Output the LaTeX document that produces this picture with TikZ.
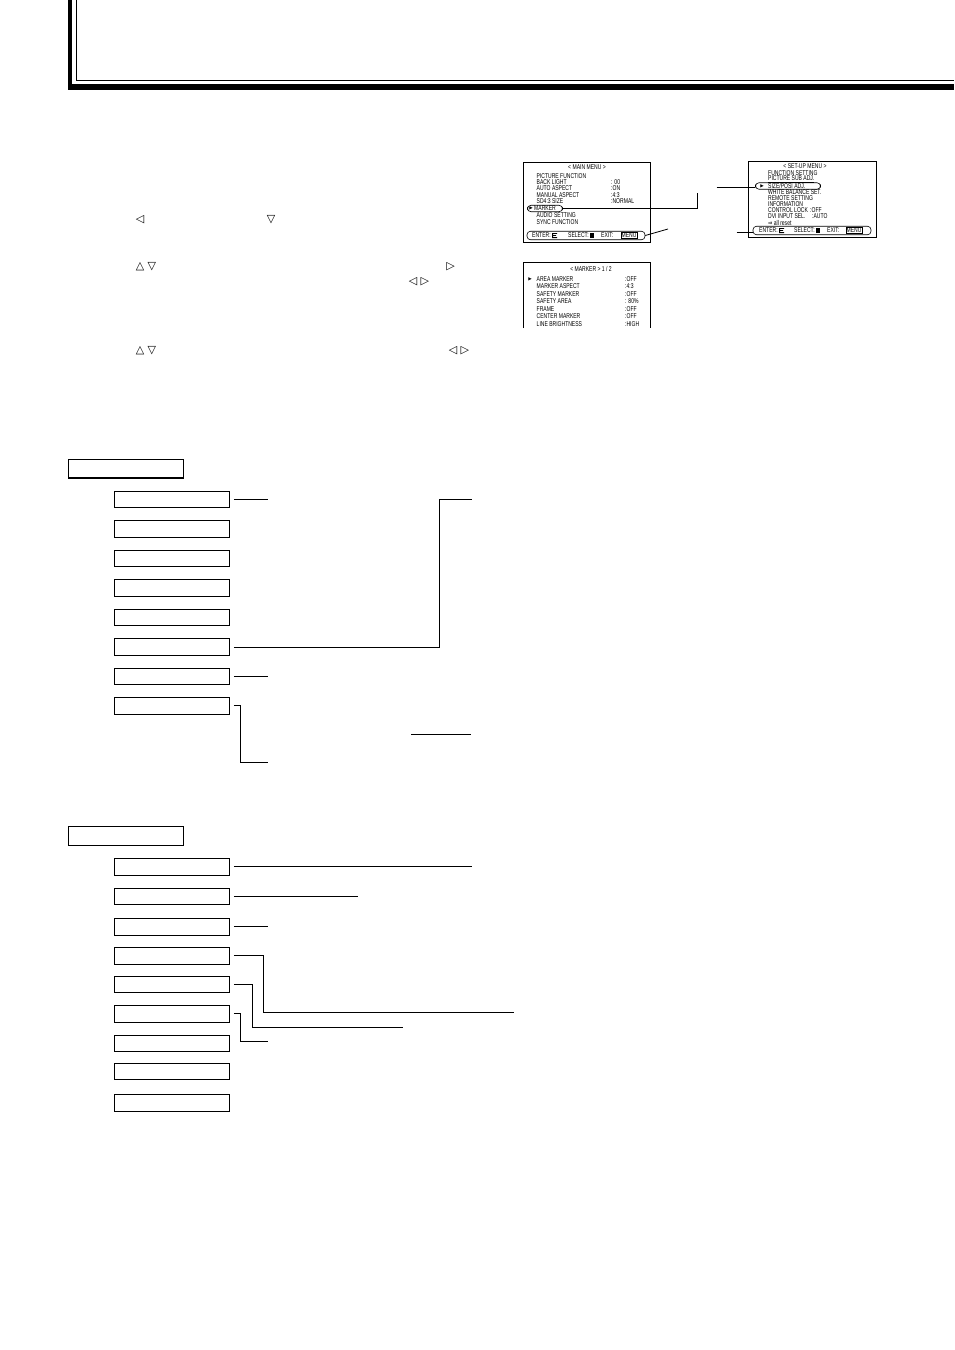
\documentclass[tikz,border=0pt]{standalone}
\usepackage{fontspec}
\setmainfont{Liberation Sans}
\newfontfamily\symf{DejaVu Sans}
\usepackage{graphicx}
\newcommand{\osd}[1]{\scalebox{0.72}[1]{#1}}
\begin{document}
\begin{tikzpicture}[x=1pt,y=-1pt,
  item/.style={draw, line width=1pt, minimum width=115.4pt, minimum height=16.5pt, inner sep=0pt},
  headbox/.style={draw, line width=1.3pt, minimum width=115.4pt, minimum height=18.6pt, inner sep=0pt},
  conn/.style={line width=0.8pt},
  scr/.style={draw, line width=0.8pt},
  oval/.style={draw, line width=0.6pt, rounded corners=3.5pt, inner sep=0pt},
  st/.style={font=\fontsize{7}{7}\selectfont, inner sep=0pt, anchor=west},
  stc/.style={font=\fontsize{7}{7}\selectfont, inner sep=0pt},
  arr/.style={font=\symf\fontsize{4.5}{4.5}\selectfont, inner sep=0pt},
  tri/.style={font=\symf\fontsize{11}{11}\selectfont, inner sep=0pt}]
\useasboundingbox (0,0) rectangle (954,1350);

% ---- title frame
\fill (68,0) rectangle (72.3,90);
\fill (68,84) rectangle (954,90);
\fill (75.7,0) rectangle (77,81.3);
\fill (75.7,80) rectangle (954,81.3);

% ---- instruction triangles
\node[tri] (t1) at (140,220) {◁};
\node[tri] (t2) at (271,220) {▽};
\node[tri] (t3) at (146,267) {△ ▽};
\node[tri] (t4) at (450.5,267) {▷};
\node[tri] (t5) at (419,282) {◁ ▷};
\node[tri] (t6) at (146,351) {△ ▽};
\node[tri] (t7) at (459,351) {◁ ▷};

% ---- MAIN MENU screen
\node[scr, minimum width=127pt, minimum height=80pt, inner sep=0pt] (mm) at (586.5,202) {};
\node[stc] (m0) at (587,167) {\osd{< MAIN MENU >}};
\node[st] (m1) at (536.5,175.7) {\osd{PICTURE FUNCTION}};
\node[st] (m2) at (536.5,182) {\osd{BACK LIGHT}};
\node[st] (m2v) at (611,182) {\osd{: 00}};
\node[st] (m3) at (536.5,188.5) {\osd{AUTO ASPECT}};
\node[st] (m3v) at (611,188.5) {\osd{:ON}};
\node[st] (m4) at (536.5,195) {\osd{MANUAL ASPECT}};
\node[st] (m4v) at (611,195) {\osd{:4:3}};
\node[st] (m5) at (536.5,201.5) {\osd{SD4:3 SIZE}};
\node[st] (m5v) at (611,201.5) {\osd{:NORMAL}};
\node[oval, minimum width=35pt, minimum height=6.5pt] (mk) at (545,208.5) {};
\node[arr] (mka) at (531,208.5) {▶};
\node[st] (m6) at (534,208.5) {\osd{MARKER}};
\node[st] (m7) at (536.5,215.5) {\osd{AUDIO SETTING}};
\node[st] (m8) at (536.5,222.5) {\osd{SYNC FUNCTION}};
\node[oval, minimum width=118pt, minimum height=8.5pt] (mb) at (586,235.5) {};
\node[st] (mb1) at (532,235.5) {\osd{ENTER:}};
\fill (552,233) rectangle (553.2,238) (553.2,233) rectangle (557,233.9) (553.2,235.1) rectangle (556,235.9) (553.2,237.1) rectangle (557,238);
\node[st] (mb2) at (568,235.5) {\osd{SELECT:}};
\fill (590,233) rectangle (594,238);
\node[st] (mb3) at (601,235.5) {\osd{EXIT:}};
\node[draw, line width=0.6pt, inner sep=0.6pt, font=\fontsize{7}{7}\selectfont] (mbm) at (629,235.5) {\osd{MENU}};

% ---- SET-UP MENU screen
\node[scr, minimum width=128pt, minimum height=76pt, inner sep=0pt] (su) at (812,199.5) {};
\node[stc] (s0) at (805,166.5) {\osd{< SET-UP MENU >}};
\node[st] (s1) at (768,173) {\osd{FUNCTION SETTING}};
\node[st] (s2) at (768,179.5) {\osd{\underline{PICTURE SUB ADJ.}}};
\node[oval, minimum width=65pt, minimum height=6.5pt] (so) at (788,186) {};
\node[arr] (soa) at (762,186) {▶};
\node[st] (s3) at (768,186) {\osd{SIZE/POSI ADJ.}};
\node[st] (s4) at (768,192) {\osd{WHITE BALANCE SET.}};
\node[st] (s5) at (768,198.5) {\osd{REMOTE SETTING}};
\node[st] (s6) at (768,204.5) {\osd{INFORMATION}};
\node[st] (s7) at (768,210.5) {\osd{CONTROL LOCK}};
\node[st] (s7v) at (810,210.5) {\osd{:OFF}};
\node[st] (s8) at (768,216.5) {\osd{DVI INPUT SEL.}};
\node[st] (s8v) at (812,216.5) {\osd{:AUTO}};
\node[st] (s9) at (768,222.5) {\osd{{\symf ⇒} all reset}};
\node[oval, minimum width=118pt, minimum height=8.5pt] (sb) at (812,230.5) {};
\node[st] (sb1) at (759,230.5) {\osd{ENTER:}};
\fill (779,228) rectangle (780.2,233) (780.2,228) rectangle (784,228.9) (780.2,230.1) rectangle (783,230.9) (780.2,232.1) rectangle (784,233);
\node[st] (sb2) at (794,230.5) {\osd{SELECT:}};
\fill (816,228) rectangle (820,233);
\node[st] (sb3) at (827,230.5) {\osd{EXIT:}};
\node[draw, line width=0.6pt, inner sep=0.6pt, font=\fontsize{7}{7}\selectfont] (sbm) at (854,230.5) {\osd{MENU}};

% ---- MARKER screen (bottom cut off)
\draw[line width=0.8pt] (523,328) -- (523,262) -- (650,262) -- (650,328);
\node[stc] (k0) at (591,269) {\osd{< MARKER > 1 / 2}};
\node[arr] (kka) at (530,279) {▶};
\node[st] (k1) at (536.5,279) {\osd{AREA MARKER}};
\node[st] (k1v) at (625,279) {\osd{:OFF}};
\node[st] (k2) at (536.5,286.5) {\osd{MARKER ASPECT}};
\node[st] (k2v) at (625,286.5) {\osd{:4:3}};
\node[st] (k3) at (536.5,294) {\osd{SAFETY MARKER}};
\node[st] (k3v) at (625,294) {\osd{:OFF}};
\node[st] (k4) at (536.5,301.5) {\osd{SAFETY AREA}};
\node[st] (k4v) at (625,301.5) {\osd{:  80\%}};
\node[st] (k5) at (536.5,309) {\osd{FRAME}};
\node[st] (k5v) at (625,309) {\osd{:OFF}};
\node[st] (k6) at (536.5,316.5) {\osd{CENTER MARKER}};
\node[st] (k6v) at (625,316.5) {\osd{:OFF}};
\node[st] (k7) at (536.5,324) {\osd{LINE BRIGHTNESS}};
\node[st] (k7v) at (625,324) {\osd{:HIGH}};

% ---- screen leader lines
\coordinate (c1) at (697,208.5);
\coordinate (c2) at (697,193);
\draw[conn] (mk.east) -- (c1) -- (c2);
\coordinate (c3) at (716.7,187.5);
\draw[conn] (c3) -- (so.west |- c3);
\coordinate (c4) at (736.7,232.3);
\draw[conn] (c4) -- (sb.west |- c4);
\coordinate (c5) at (668,229);
\draw[conn] (mb.east) -- (c5);

% ---- section 1
\node[headbox] (ha) at (126,468.8) {};
\node[item] (a1) at (172,499.3) {};
\node[item] (a2) at (172,529) {};
\node[item] (a3) at (172,558.3) {};
\node[item] (a4) at (172,588) {};
\node[item] (a5) at (172,617.5) {};
\node[item] (a6) at (172,647) {};
\node[item] (a7) at (172,676.5) {};
\node[item] (a8) at (172,705.8) {};

\coordinate (e1) at (268.3,499.3);
\draw[conn] ([xshift=3.6pt]a1.east) -- (e1);
\coordinate (e2) at (439.3,499.3);
\coordinate (e3) at (471.7,499.3);
\draw[conn] ([xshift=3.6pt]a6.east) -| (e2) -- (e3);
\coordinate (e4) at (268.3,676.5);
\draw[conn] ([xshift=3.6pt]a7.east) -- (e4);
\coordinate (e5) at (240.3,705.8);
\coordinate (e6) at (268.3,762.3);
\draw[conn] ([xshift=3.6pt]a8.east) -- (e5) |- (e6);
\coordinate (e7) at (411,734.3);
\coordinate (e8) at (471,734.3);
\draw[conn] (e7) -- (e8);

% ---- section 2
\node[headbox] (hb) at (126,836) {};
\node[item] (b1) at (172,866.8) {};
\node[item] (b2) at (172,896.3) {};
\node[item] (b3) at (172,926.8) {};
\node[item] (b4) at (172,955.8) {};
\node[item] (b5) at (172,984.3) {};
\node[item] (b6) at (172,1013.8) {};
\node[item] (b7) at (172,1043.3) {};
\node[item] (b8) at (172,1071.3) {};
\node[item] (b9) at (172,1102.8) {};

\coordinate (f1) at (471.7,866.8);
\draw[conn] ([xshift=3.6pt]b1.east) -- (f1);
\coordinate (f2) at (357.7,896.3);
\draw[conn] ([xshift=3.6pt]b2.east) -- (f2);
\coordinate (f3) at (268.3,926.8);
\draw[conn] ([xshift=3.6pt]b3.east) -- (f3);
\coordinate (f4) at (263.3,955.8);
\coordinate (f5) at (514,1012.3);
\draw[conn] ([xshift=3.6pt]b4.east) -- (f4) |- (f5);
\coordinate (f6) at (252.3,984.3);
\coordinate (f7) at (402.7,1027.3);
\draw[conn] ([xshift=3.6pt]b5.east) -- (f6) |- (f7);
\coordinate (f8) at (240.3,1013.8);
\coordinate (f9) at (268.3,1041.3);
\draw[conn] ([xshift=3.6pt]b6.east) -- (f8) |- (f9);
\end{tikzpicture}
\end{document}
